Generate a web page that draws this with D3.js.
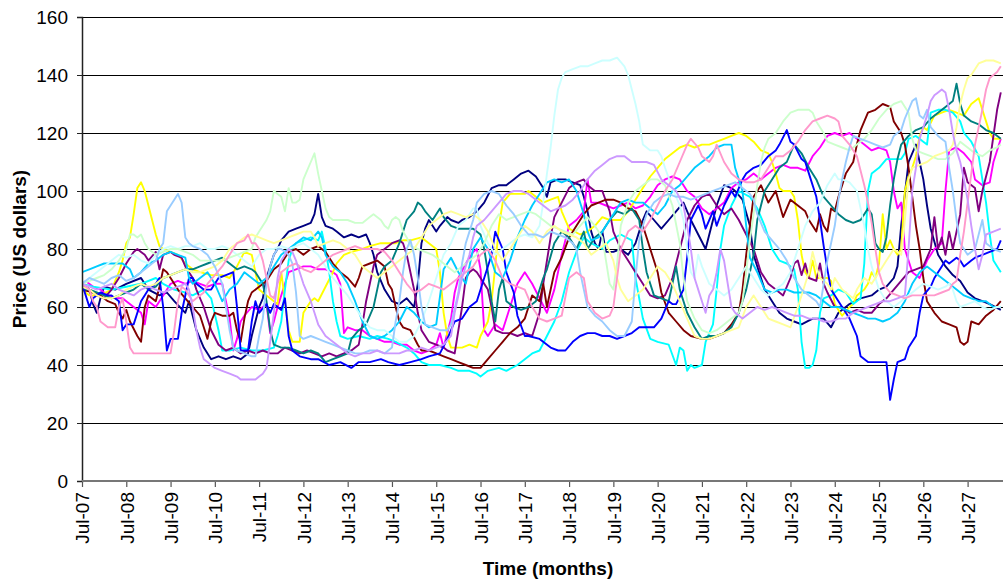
<!DOCTYPE html>
<html>
<head>
<meta charset="utf-8">
<script src="https://cdn.jsdelivr.net/npm/d3@7/dist/d3.min.js"></script>
<style>
  html, body { margin: 0; padding: 0; background: #fff; }
  svg { display: block; }
  text { font-family: "Liberation Sans", Arial, sans-serif; fill: #000; }
</style>
</head>
<body>
<svg id="chart" width="1003" height="582"></svg>
<script>
// Month index counts from Jul-07 (0) to Apr-28 (249); each path is [month, price] pairs.
const tickLabels = ["Jul-07","Jul-08","Jul-09","Jul-10","Jul-11","Jul-12","Jul-13","Jul-14","Jul-15","Jul-16",
  "Jul-17","Jul-18","Jul-19","Jul-20","Jul-21","Jul-22","Jul-23","Jul-24","Jul-25","Jul-26","Jul-27"];
const tickMonths = [0,12,24,36,48,60,72,84,96,108,120,132,144,156,168,180,192,204,216,228,240];
const priceTicks = [0,20,40,60,80,100,120,140,160];

const path1 = [[0,68],[2,66],[3,61],[4,58],[5,63],[6,67],[9,66],[12,68],[16,70],[18,66],[21,64],[23,65],[25,62],[28,58],[29,62],[31,52],[33,46],[35,42],[37,43],[39,42],[41,43],[43,42],[45,44],[46,50],[47,55],[48,60],[49,63],[50,70],[51,74],[52,78],[53,80],[54,83],[56,86],[58,87],[60,88],[62,89],[63,92],[64,99],[65,91],[66,88],[68,87],[69,86],[71,84],[73,85],[75,84],[77,85],[78,82],[79,78],[80,72],[82,66],[84,62],[86,61],[88,63],[90,60],[91,68],[92,82],[93,87],[94,90],[95,88],[96,86],[97,88],[99,91],[100,90],[102,89],[103,90],[105,91],[107,93],[109,96],[111,101],[113,102],[115,102],[117,104],[119,106],[121,107],[123,105],[125,101],[126,98],[127,103],[129,104],[131,104],[133,103],[135,102],[136,98],[137,93],[138,86],[139,82],[140,80],[141,86],[142,79],[144,79],[146,80],[148,78],[150,82],[151,86],[152,90],[153,93],[155,90],[157,87],[159,90],[161,93],[163,96],[165,90],[167,85],[169,80],[171,90],[172,95],[174,102],[176,101],[177,100],[179,97],[181,88],[182,78],[184,70],[185,66],[187,62],[189,58],[191,56],[193,55],[195,54],[198,56],[201,56],[203,53],[205,58],[208,61],[211,63],[214,64],[216,66],[218,67],[220,70],[221,74],[222,88],[224,110],[226,116],[227,110],[228,104],[229,95],[230,87],[232,78],[234,74],[236,71],[238,69],[240,65],[242,63],[244,62],[246,61],[249,59]];

const path2 = [[0,68],[1,69],[3,67],[5,66],[7,64],[9,63],[11,63],[12,62],[14,60],[16,58],[17,54],[18,62],[20,60],[22,64],[24,68],[26,69],[28,68],[30,69],[32,68],[34,67],[36,68],[38,68],[40,56],[41,45],[42,49],[43,55],[44,57],[46,60],[48,59],[50,61],[51,51],[52,55],[53,60],[55,68],[56,72],[58,73],[60,74],[62,74],[64,73],[66,73],[68,72],[69,71],[70,68],[71,51],[72,53],[74,52],[76,52],[78,50],[80,49],[82,48],[84,48],[86,47],[88,47],[90,45],[92,44],[94,45],[96,47],[97,51],[98,46],[100,56],[101,65],[102,70],[104,75],[106,79],[107,80],[108,73],[109,52],[110,50],[112,54],[114,52],[116,60],[118,68],[120,72],[122,68],[124,63],[126,58],[128,66],[130,78],[132,88],[134,90],[136,93],[137,104],[138,96],[140,96],[142,95],[144,94],[146,95],[148,96],[150,94],[152,95],[154,98],[156,102],[158,104],[160,105],[162,104],[164,100],[166,98],[168,94],[170,92],[172,94],[174,96],[176,101],[178,103],[180,104],[182,106],[184,104],[186,106],[188,108],[190,109],[192,108],[194,108],[196,107],[198,112],[200,115],[202,119],[204,120],[206,119],[208,120],[210,118],[212,116],[214,114],[216,115],[218,114],[219,110],[220,100],[221,94],[222,96],[223,80],[225,72],[227,70],[229,76],[231,80],[233,82],[234,100],[235,114],[237,115],[239,113],[241,110],[242,104],[244,102],[246,103],[247,110],[249,118]];

const path3 = [[0,66],[2,64],[5,64],[8,66],[10,72],[11,76],[12,82],[13,84],[14,92],[15,101],[16,103],[17,100],[18,95],[19,90],[20,85],[21,81],[22,80],[24,79],[26,78],[28,75],[30,73],[32,72],[35,71],[38,71],[40,70],[42,74],[44,79],[46,78],[47,72],[48,66],[50,64],[52,62],[53,61],[54,72],[55,62],[56,52],[57,48],[59,48],[60,58],[62,62],[63,63],[64,62],[66,67],[68,72],[69,75],[71,78],[73,79],[76,80],[78,81],[81,82],[85,82],[87,83],[89,83],[92,84],[94,82],[96,80],[97,72],[98,58],[99,50],[100,46],[103,46],[105,47],[107,46],[108,50],[110,55],[111,62],[112,74],[113,88],[114,96],[116,99],[118,99],[120,99],[121,100],[123,98],[125,96],[127,97],[129,98],[130,93],[132,87],[135,85],[137,86],[139,88],[141,91],[143,90],[146,90],[148,93],[150,97],[152,101],[154,105],[156,108],[158,111],[160,113],[162,115],[164,116],[166,115],[168,116],[170,116],[172,117],[174,118],[176,119],[178,120],[180,119],[182,117],[184,114],[186,113],[187,110],[188,106],[189,101],[190,100],[192,100],[193,98],[194,90],[195,78],[196,72],[197,70],[198,76],[199,70],[200,70],[202,70],[203,69],[204,61],[205,59],[206,57],[208,60],[209,61],[210,64],[212,66],[213,68],[214,72],[215,70],[216,75],[217,92],[218,80],[219,83],[220,80],[221,78],[222,80],[223,100],[224,105],[225,108],[226,112],[227,119],[228,122],[229,121],[231,126],[233,127],[235,128],[237,127],[239,126],[241,130],[243,132],[244,128],[245,124],[246,120],[247,118],[249,118]];

const path4 = [[0,68],[3,67],[8,66],[12,67],[16,68],[20,70],[22,68],[25,66],[28,65],[30,64],[33,66],[35,63],[37,52],[38,45],[40,45],[43,46],[46,45],[49,45],[52,46],[53,50],[54,55],[55,66],[56,76],[57,80],[58,82],[60,83],[62,84],[64,83],[65,86],[66,80],[67,72],[68,62],[69,55],[70,50],[72,49],[75,50],[78,49],[80,50],[83,49],[85,48],[88,46],[90,44],[92,41],[94,40],[97,40],[100,39],[102,38],[105,38],[107,37],[108,36],[110,38],[113,39],[115,38],[118,40],[120,42],[122,44],[124,45],[126,50],[128,55],[130,62],[132,72],[134,79],[136,84],[138,82],[141,80],[143,83],[146,85],[149,83],[150,70],[152,56],[154,49],[156,48],[159,47],[161,40],[162,46],[163,45],[164,38],[165,40],[166,39],[168,40],[169,48],[171,54],[172,66],[173,80],[174,88],[176,95],[178,100],[181,98],[183,94],[185,88],[187,80],[189,76],[191,75],[193,73],[194,66],[195,48],[196,39],[197,39],[198,40],[199,45],[200,58],[201,63],[203,64],[205,66],[207,65],[209,61],[211,63],[212,75],[213,100],[214,106],[216,108],[218,111],[220,111],[222,111],[223,113],[224,118],[226,119],[228,117],[229,116],[230,127],[232,128],[234,128],[236,127],[238,124],[239,120],[241,117],[243,112],[244,104],[245,96],[246,85],[247,76],[249,72]];

const path5 = [[0,68],[2,66],[4,64],[6,63],[8,66],[10,70],[12,75],[13,77],[14,79],[15,80],[16,79],[17,78],[18,76],[20,79],[21,73],[22,78],[24,79],[25,78],[27,77],[28,74],[30,70],[31,66],[33,60],[35,52],[37,47],[39,45],[41,46],[43,44],[45,45],[47,44],[49,45],[51,44],[53,44],[55,46],[57,45],[59,44],[61,45],[63,44],[65,43],[67,44],[69,43],[71,44],[73,45],[75,47],[76,54],[77,62],[78,68],[79,74],[80,78],[82,80],[84,82],[86,83],[87,82],[88,78],[89,72],[90,66],[91,58],[92,52],[94,48],[96,47],[98,46],[99,45],[101,44],[103,60],[104,70],[105,72],[106,73],[107,72],[108,70],[110,66],[111,60],[112,52],[114,51],[116,51],[118,50],[120,51],[122,50],[124,58],[125,68],[126,76],[127,84],[128,91],[130,96],[132,101],[134,103],[136,104],[137,102],[139,100],[141,100],[143,93],[144,86],[146,80],[148,76],[150,72],[152,68],[154,64],[156,63],[158,64],[160,70],[162,80],[164,90],[166,95],[168,98],[170,99],[172,95],[174,92],[176,94],[178,90],[180,85],[182,80],[184,72],[186,68],[188,66],[190,64],[192,70],[193,75],[194,76],[195,71],[196,75],[197,70],[199,69],[200,75],[201,68],[202,65],[204,60],[206,60],[208,58],[210,59],[212,58],[214,58],[216,61],[218,63],[220,66],[222,69],[224,72],[226,73],[228,74],[230,80],[231,91],[232,80],[233,84],[234,78],[235,86],[236,80],[238,92],[239,108],[240,103],[242,101],[243,93],[244,100],[246,110],[248,128],[249,134]];

const path6 = [[0,66],[3,65],[5,64],[7,62],[9,61],[10,58],[11,56],[12,59],[13,55],[15,50],[16,48],[17,60],[18,64],[20,62],[21,67],[22,73],[23,72],[24,70],[26,66],[28,63],[30,60],[32,57],[33,53],[34,49],[35,55],[36,58],[38,57],[40,57],[41,58],[42,52],[43,48],[44,56],[45,62],[46,65],[48,67],[50,69],[52,73],[54,75],[56,79],[58,80],[60,78],[62,80],[64,81],[66,79],[68,75],[70,72],[72,70],[74,67],[75,70],[76,74],[78,75],[80,76],[82,74],[83,68],[84,66],[85,60],[86,55],[87,53],[89,52],[91,47],[92,45],[94,45],[96,44],[98,43],[100,42],[102,41],[104,40],[106,39],[108,39],[110,42],[112,45],[114,48],[116,51],[118,53],[120,56],[121,60],[122,64],[124,62],[125,68],[126,60],[128,72],[130,77],[132,84],[134,88],[136,92],[138,95],[140,96],[142,97],[144,97],[146,96],[148,94],[150,93],[152,88],[154,80],[156,72],[157,65],[159,58],[161,55],[163,52],[165,50],[168,49],[170,49],[172,50],[174,51],[176,54],[178,58],[179,66],[180,78],[181,88],[182,98],[184,102],[186,96],[188,100],[190,91],[192,97],[194,95],[196,93],[197,90],[199,86],[200,92],[201,88],[202,86],[203,94],[204,93],[205,98],[207,106],[209,110],[210,116],[211,121],[213,127],[215,128],[217,130],[219,129],[220,124],[222,120],[223,116],[224,108],[225,98],[226,88],[227,80],[228,70],[229,62],[231,58],[233,55],[235,54],[237,53],[238,48],[239,47],[240,48],[241,55],[243,54],[245,57],[247,59],[249,62]];

const path7 = [[0,66],[2,66],[4,65],[6,64],[8,63],[10,64],[12,65],[14,66],[16,68],[18,66],[20,67],[22,70],[24,71],[26,72],[28,73],[30,73],[32,74],[34,75],[36,76],[38,77],[40,75],[42,73],[44,74],[46,73],[47,72],[49,68],[50,62],[51,52],[52,47],[54,46],[56,46],[58,45],[60,44],[62,45],[64,44],[66,41],[68,42],[70,43],[72,44],[73,49],[75,52],[77,54],[79,60],[80,66],[81,72],[82,74],[84,76],[86,82],[87,86],[88,90],[90,93],[91,96],[92,95],[93,93],[95,90],[97,94],[98,91],[100,88],[102,87],[104,87],[106,87],[108,85],[109,80],[110,72],[111,62],[112,55],[113,66],[114,70],[115,62],[117,60],[119,59],[121,60],[123,62],[125,70],[126,73],[128,82],[130,86],[132,84],[134,80],[136,86],[137,80],[139,84],[141,86],[143,90],[145,93],[147,92],[149,94],[151,90],[152,80],[153,72],[155,64],[157,63],[159,62],[160,68],[161,74],[162,66],[164,58],[166,53],[168,49],[170,50],[172,50],[174,51],[176,53],[178,58],[180,66],[181,72],[182,78],[183,90],[185,100],[187,104],[189,108],[191,110],[193,116],[195,113],[197,108],[199,104],[201,98],[203,95],[205,92],[207,90],[209,89],[211,90],[213,94],[214,92],[215,82],[216,80],[217,79],[218,84],[219,95],[220,104],[221,111],[222,116],[224,119],[226,121],[228,122],[230,125],[232,127],[234,129],[236,131],[237,137],[238,130],[239,126],[241,124],[243,123],[245,121],[247,120],[249,118]];

const path8 = [[0,68],[1,64],[2,60],[3,63],[5,65],[7,64],[8,64],[10,62],[11,52],[12,54],[14,54],[16,62],[18,66],[20,68],[21,70],[22,60],[23,45],[24,49],[26,49],[27,58],[29,70],[30,70],[31,68],[33,66],[35,66],[37,70],[39,71],[41,72],[42,60],[43,45],[45,45],[46,55],[47,62],[48,58],[50,61],[51,58],[52,61],[54,59],[55,63],[56,50],[57,45],[59,43],[62,42],[64,42],[67,40],[70,41],[73,39],[75,41],[78,41],[81,42],[83,41],[86,40],[89,41],[92,42],[94,43],[97,44],[99,49],[101,55],[103,56],[105,60],[107,62],[109,70],[111,78],[112,86],[114,80],[115,72],[117,65],[118,57],[120,50],[121,50],[124,49],[127,46],[129,45],[131,45],[133,48],[135,50],[137,51],[139,51],[141,50],[143,50],[145,49],[147,50],[149,51],[151,53],[153,53],[155,53],[157,56],[159,62],[160,61],[161,61],[163,66],[164,77],[165,90],[167,95],[168,92],[169,87],[171,93],[172,88],[174,95],[176,100],[177,98],[179,104],[180,106],[182,108],[184,109],[186,112],[188,114],[189,116],[191,121],[192,117],[193,116],[195,111],[196,110],[197,106],[199,98],[200,90],[201,81],[202,73],[203,66],[205,62],[206,60],[208,56],[209,53],[210,50],[211,43],[213,41],[215,41],[218,41],[219,28],[220,35],[221,41],[223,42],[224,46],[226,50],[227,58],[228,64],[230,67],[231,70],[233,74],[234,76],[235,75],[237,77],[238,76],[239,74],[241,76],[242,77],[244,78],[246,79],[248,80],[249,83]];

const path9 = [[0,72],[2,73],[4,74],[6,75],[9,75],[11,75],[13,73],[14,70],[16,72],[18,75],[20,76],[22,78],[24,79],[26,78],[28,77],[29,70],[30,68],[32,70],[34,72],[35,70],[36,68],[37,65],[38,62],[40,66],[42,68],[44,72],[46,70],[48,68],[50,70],[52,74],[54,78],[56,80],[58,82],[60,84],[62,83],[64,86],[65,84],[66,78],[68,74],[70,72],[72,68],[74,62],[76,55],[78,50],[80,49],[82,50],[84,52],[86,55],[88,60],[90,58],[92,55],[94,53],[96,54],[98,73],[100,77],[102,72],[104,68],[106,80],[108,84],[110,80],[112,72],[114,70],[116,76],[118,84],[120,90],[122,95],[124,99],[126,103],[128,104],[130,103],[132,104],[134,100],[136,92],[137,86],[138,83],[140,84],[142,88],[144,92],[146,96],[148,97],[150,96],[152,96],[154,94],[156,92],[158,95],[160,100],[162,102],[164,105],[166,108],[168,110],[170,112],[172,115],[174,116],[176,116],[177,108],[179,100],[180,88],[181,77],[183,72],[185,66],[187,65],[189,66],[191,66],[193,65],[195,65],[197,65],[199,64],[201,62],[203,60],[205,60],[207,59],[209,58],[211,57],[213,56],[215,56],[217,55],[219,56],[221,58],[223,62],[225,68],[227,72],[229,74],[231,72],[233,70],[235,68],[237,66],[239,64],[241,63],[243,62],[245,62],[247,60],[249,60]];

const path10 = [[0,68],[2,70],[4,72],[6,74],[8,76],[10,78],[12,77],[14,78],[16,76],[18,75],[20,78],[22,80],[24,81],[26,80],[28,81],[30,81],[32,82],[34,80],[36,80],[38,81],[40,80],[42,78],[44,76],[46,74],[48,78],[50,80],[52,80],[54,81],[56,80],[58,81],[60,82],[62,80],[64,78],[66,74],[68,70],[70,67],[72,64],[74,60],[76,56],[78,53],[80,52],[82,52],[84,50],[86,48],[88,48],[90,50],[92,55],[94,62],[96,70],[98,78],[100,82],[102,88],[104,90],[106,94],[107,94],[108,88],[110,82],[112,78],[114,80],[116,82],[118,84],[120,85],[122,84],[124,88],[125,96],[126,106],[127,115],[128,126],[129,135],[130,139],[131,141],[133,142],[135,143],[137,143],[139,144],[141,145],[143,145],[145,146],[147,143],[148,140],[149,135],[150,130],[151,124],[152,116],[154,114],[156,114],[157,112],[158,108],[160,101],[162,95],[163,90],[164,80],[165,72],[166,70],[167,78],[168,74],[170,68],[172,66],[174,64],[176,66],[178,70],[180,74],[182,70],[184,66],[186,64],[188,66],[190,68],[192,72],[194,80],[196,88],[198,93],[200,96],[202,102],[204,106],[205,104],[206,104],[208,103],[210,100],[211,94],[212,88],[213,80],[214,74],[216,66],[218,62],[220,60],[222,62],[224,64],[226,66],[228,68],[230,67],[232,66],[234,67],[235,68],[236,66],[237,62],[238,60],[240,61],[242,62],[244,60],[246,59],[248,60],[249,60]];

const path11 = [[0,68],[2,69],[4,70],[6,71],[8,73],[10,76],[12,80],[13,85],[14,85],[15,84],[16,85],[17,82],[18,80],[20,78],[22,79],[24,80],[26,80],[28,79],[30,78],[32,76],[34,76],[36,76],[38,76],[40,77],[42,78],[44,79],[46,80],[47,84],[48,86],[49,88],[50,90],[51,93],[52,100],[53,99],[54,98],[55,93],[56,101],[57,96],[58,96],[59,97],[60,104],[61,107],[62,110],[63,113],[64,106],[65,100],[66,94],[67,91],[68,90],[70,90],[72,90],[74,89],[76,89],[78,91],[79,92],[81,90],[82,88],[83,87],[84,90],[85,91],[86,90],[87,86],[88,84],[89,81],[91,80],[93,79],[95,78],[97,76],[99,74],[101,72],[103,74],[105,76],[107,78],[109,82],[111,88],[113,92],[115,90],[117,91],[119,92],[121,93],[123,92],[125,90],[127,88],[129,87],[131,86],[133,85],[135,88],[137,91],[139,88],[141,84],[142,76],[143,68],[144,66],[145,75],[146,88],[148,96],[150,100],[152,102],[154,104],[156,104],[158,102],[160,95],[162,82],[163,70],[164,62],[166,56],[168,52],[170,51],[172,52],[174,54],[176,56],[178,58],[179,62],[180,72],[181,83],[182,92],[183,102],[184,110],[185,115],[186,118],[188,120],[190,124],[192,127],[194,128],[196,128],[197,128],[198,127],[199,124],[201,120],[202,117],[204,116],[206,115],[208,114],[210,116],[212,118],[214,121],[216,125],[218,128],[220,130],[222,131],[224,127],[225,118],[226,114],[228,113],[230,112],[232,111],[234,111],[236,113],[238,117],[240,115],[242,113],[244,112],[246,114],[248,115],[249,116]];

const path12 = [[0,67],[2,66],[4,64],[6,63],[8,63],[10,64],[12,66],[14,67],[16,68],[18,67],[20,68],[22,70],[24,71],[26,72],[28,73],[30,72],[32,72],[34,73],[36,74],[38,76],[40,80],[42,82],[44,84],[46,85],[48,84],[50,83],[52,82],[54,83],[56,84],[58,85],[60,86],[62,86],[63,84],[64,81],[66,82],[68,83],[70,82],[72,80],[74,78],[76,74],[78,72],[80,70],[82,72],[84,74],[86,76],[88,78],[90,80],[92,84],[94,88],[96,90],[98,92],[100,93],[102,92],[104,91],[106,92],[108,90],[110,86],[112,80],[114,76],[116,80],[118,84],[120,88],[122,86],[124,82],[126,86],[128,88],[130,86],[132,85],[134,84],[136,82],[138,78],[140,80],[142,82],[144,76],[145,70],[146,66],[148,62],[150,64],[152,66],[154,70],[156,74],[158,72],[160,68],[162,62],[164,56],[166,50],[168,49],[170,49],[172,50],[174,51],[176,52],[178,53],[180,60],[182,64],[184,60],[186,56],[188,55],[190,54],[192,53],[194,60],[196,68],[197,72],[198,79],[199,74],[200,70],[202,68],[203,66],[204,70],[206,66],[208,64],[209,63],[210,66],[212,70],[214,68],[216,72],[218,76],[220,80],[222,78],[223,90],[224,104],[225,108],[227,109],[229,110],[231,112],[233,113],[235,114],[236,116],[237,122],[238,130],[239,135],[240,139],[241,140],[243,144],[245,145],[247,145],[249,144]];

const path13 = [[0,68],[2,70],[4,69],[6,68],[8,70],[10,71],[12,69],[14,70],[16,72],[18,74],[20,76],[21,80],[22,82],[23,93],[24,95],[25,97],[26,99],[27,96],[28,84],[29,82],[30,81],[32,80],[34,78],[36,74],[38,68],[39,60],[40,52],[41,46],[42,45],[44,44],[46,43],[47,43],[48,50],[49,56],[50,68],[51,74],[52,78],[53,80],[54,80],[56,78],[57,75],[58,65],[59,50],[60,49],[62,50],[64,49],[66,48],[68,47],[70,46],[72,45],[74,44],[76,44],[78,45],[80,45],[82,44],[84,46],[85,55],[86,62],[87,72],[88,80],[89,83],[90,78],[91,70],[92,60],[93,54],[95,53],[97,52],[99,52],[100,54],[102,65],[103,75],[104,82],[105,86],[106,90],[107,96],[109,99],[111,100],[113,99],[115,95],[117,92],[119,88],[121,85],[123,85],[125,84],[127,86],[129,85],[131,84],[133,82],[134,80],[135,72],[136,66],[137,60],[139,57],[141,55],[143,52],[145,50],[147,50],[149,55],[150,70],[151,83],[152,88],[153,92],[155,96],[157,98],[159,99],[161,98],[163,98],[165,97],[167,98],[169,99],[171,100],[173,101],[175,102],[177,103],[179,101],[181,99],[182,97],[183,92],[185,86],[187,83],[189,80],[191,76],[193,70],[195,66],[197,64],[199,62],[200,60],[201,68],[202,76],[203,82],[204,88],[205,97],[206,104],[207,110],[208,115],[209,119],[211,118],[213,117],[215,116],[217,115],[219,116],[220,119],[222,121],[223,125],[224,128],[225,131],[226,132],[227,126],[228,125],[229,128],[230,122],[232,119],[234,117],[235,108],[236,100],[237,90],[238,82],[239,80],[240,78],[242,80],[243,85],[244,90],[245,82],[247,80],[249,79]];

const path14 = [[0,68],[2,66],[3,62],[4,60],[5,55],[7,53],[9,53],[10,60],[11,63],[12,55],[13,46],[14,44],[16,44],[18,44],[20,44],[22,44],[24,44],[25,52],[26,62],[27,67],[28,66],[29,64],[30,62],[31,63],[33,65],[34,68],[36,71],[38,74],[40,78],[42,82],[44,83],[45,85],[46,82],[47,82],[48,80],[49,76],[50,70],[51,64],[52,63],[53,68],[54,72],[56,74],[58,75],[60,73],[62,72],[64,74],[66,76],[68,78],[70,79],[72,80],[74,81],[76,80],[78,80],[80,80],[82,79],[84,76],[86,72],[88,68],[90,65],[92,66],[94,68],[96,67],[98,66],[100,68],[102,70],[104,72],[106,74],[108,78],[110,80],[112,76],[114,70],[116,68],[118,67],[120,66],[122,60],[124,56],[126,55],[128,56],[130,57],[132,70],[134,72],[136,70],[137,62],[139,58],[141,56],[143,57],[144,60],[145,70],[146,80],[148,86],[150,88],[152,86],[154,90],[156,95],[158,100],[160,104],[162,110],[164,116],[165,118],[167,115],[168,112],[170,110],[171,112],[172,116],[174,110],[176,106],[178,104],[180,103],[182,103],[184,104],[186,108],[188,112],[190,112],[192,114],[194,117],[196,121],[198,124],[200,125],[202,126],[204,125],[205,124],[206,119],[208,116],[210,112],[212,102],[213,96],[214,89],[215,80],[216,72],[217,68],[219,65],[221,64],[223,63],[225,64],[227,64],[229,64],[231,64],[233,65],[235,66],[236,68],[237,69],[238,78],[239,86],[240,96],[241,106],[242,116],[243,122],[244,128],[245,135],[246,139],[248,141],[249,143]];

const path15 = [[0,68],[2,67],[4,66],[6,67],[8,68],[10,66],[12,65],[14,64],[16,66],[18,67],[20,66],[22,65],[24,66],[26,67],[28,68],[29,66],[30,60],[31,52],[32,46],[33,42],[34,41],[35,40],[36,39],[38,38],[40,37],[42,36],[43,35],[45,35],[47,35],[48,36],[49,37],[50,39],[51,48],[52,58],[53,70],[54,76],[55,78],[56,80],[57,79],[58,76],[59,72],[60,68],[62,62],[63,58],[64,54],[65,52],[66,50],[68,48],[70,46],[72,44],[74,43],[76,44],[78,44],[80,45],[82,44],[84,44],[86,44],[88,45],[90,45],[92,46],[94,45],[96,46],[98,47],[100,50],[101,58],[102,64],[103,70],[105,78],[106,84],[107,88],[109,90],[111,93],[113,96],[115,99],[117,100],[119,100],[121,99],[123,97],[125,95],[127,93],[129,94],[131,95],[133,97],[135,100],[137,104],[139,107],[141,109],[143,111],[145,112],[147,112],[149,110],[151,110],[153,110],[155,109],[157,104],[159,102],[161,100],[163,95],[164,88],[165,80],[166,70],[167,66],[168,62],[169,58],[170,64],[171,66],[172,72],[173,80],[174,76],[175,68],[176,60],[177,58],[179,56],[181,58],[183,60],[185,59],[187,60],[189,59],[191,58],[193,57],[195,57],[197,56],[199,56],[201,55],[203,55],[205,56],[207,56],[209,58],[211,59],[213,60],[215,61],[217,62],[219,62],[221,63],[223,64],[224,80],[225,100],[226,108],[227,118],[228,122],[229,126],[230,131],[231,133],[232,134],[233,135],[234,134],[235,128],[236,120],[237,114],[238,110],[239,104],[240,97],[241,88],[242,80],[243,73],[244,78],[245,85],[247,86],[249,87]];

// Drawing order and colours follow the classic spreadsheet line palette.
const paths = [path1, path2, path3, path4, path5, path6, path7, path8, path9, path10, path11, path12, path13, path14, path15];
const palette = ["#000080", "#FF00FF", "#FFFF00", "#00FFFF", "#800080", "#800000", "#008080", "#0000FF",
  "#00CCFF", "#CCFFFF", "#CCFFCC", "#FFFF99", "#99CCFF", "#FF99CC", "#CC99FF"];

const svg = d3.select("#chart");
const plot = { left: 82, right: 1003, top: 17, bottom: 481 };

const x = d3.scaleLinear().domain([0, 240]).range([82, 967.6]);
const y = d3.scaleLinear().domain([0, 160]).range([plot.bottom, plot.top]);

// Horizontal gridlines
svg.append("g")
  .selectAll("line")
  .data(priceTicks.filter(d => d > 0))
  .join("line")
  .attr("x1", plot.left).attr("x2", plot.right)
  .attr("y1", d => Math.round(y(d)) + 0.5).attr("y2", d => Math.round(y(d)) + 0.5)
  .attr("stroke", "#000").attr("stroke-width", 1);

// Price paths
const line = d3.line().x(d => x(d[0])).y(d => y(d[1]));
svg.append("clipPath").attr("id", "plotClip")
  .append("rect").attr("x", plot.left).attr("y", 0)
  .attr("width", plot.right - plot.left + 10).attr("height", plot.bottom + 1);
svg.append("g").attr("clip-path", "url(#plotClip)")
  .selectAll("path")
  .data(paths)
  .join("path")
  .attr("d", line)
  .attr("fill", "none")
  .attr("stroke", (d, i) => palette[i])
  .attr("stroke-width", 1.9)
  .attr("stroke-linejoin", "round");

// Y axis
const yAxis = d3.axisLeft(y).tickValues(priceTicks).tickSize(5).tickPadding(9).tickFormat(d3.format("d"));
const gy = svg.append("g").attr("transform", `translate(${plot.left},0)`).call(yAxis);
gy.select(".domain").attr("stroke", "#222").attr("stroke-width", 1.5);
gy.selectAll(".tick line").attr("stroke", "#222");
gy.selectAll("text").style("font-size", "19px");

// X axis
const xAxis = d3.axisBottom(x).tickValues(tickMonths).tickSize(6)
  .tickFormat((d, i) => tickLabels[i]);
const gx = svg.append("g").attr("transform", `translate(0,${plot.bottom})`).call(xAxis);
gx.select(".domain").remove();
gx.append("line").attr("x1", plot.left).attr("x2", plot.right).attr("y1", 0).attr("y2", 0)
  .attr("stroke", "#777").attr("stroke-width", 2);
gx.selectAll(".tick line").attr("stroke", "#555").attr("stroke-width", 1.2);
gx.selectAll("text")
  .style("font-size", "19px")
  .style("text-anchor", "end")
  .attr("transform", "rotate(-90)")
  .attr("x", -11).attr("y", 0).attr("dy", "0.36em");

// Axis titles
svg.append("text")
  .attr("transform", `translate(26,${(plot.top + plot.bottom) / 2}) rotate(-90)`)
  .attr("text-anchor", "middle")
  .style("font-size", "19px").style("font-weight", "bold")
  .text("Price (US dollars)");
svg.append("text")
  .attr("x", 548).attr("y", 575)
  .attr("text-anchor", "middle")
  .style("font-size", "19px").style("font-weight", "bold")
  .text("Time (months)");
</script>
</body>
</html>
